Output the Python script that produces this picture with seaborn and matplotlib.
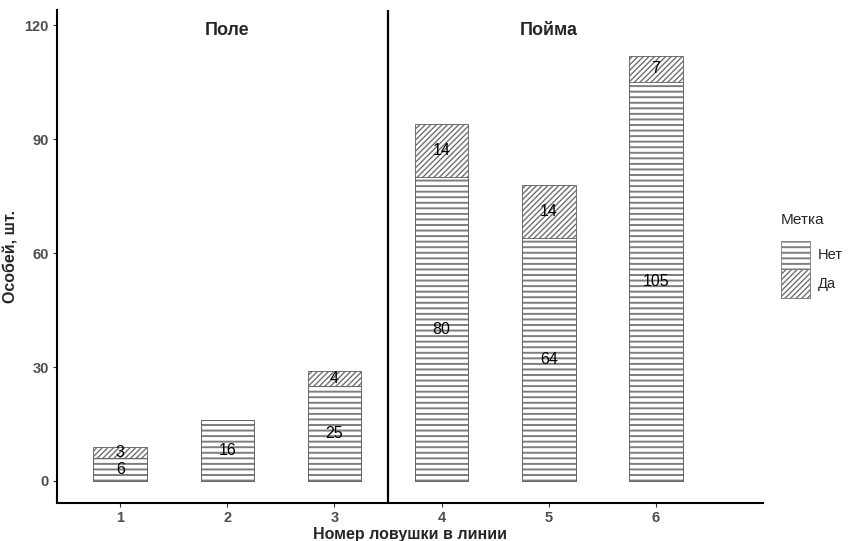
import matplotlib
matplotlib.use("Agg")
import matplotlib.pyplot as plt
import matplotlib.colors as mcolors
from matplotlib.patches import Patch
import seaborn as sns

# данные
traps = [1, 2, 3, 4, 5, 6]
net_counts = [6, 16, 25, 80, 64, 105]   # Метка: Нет
da_counts = [3, 0, 4, 14, 14, 7]        # Метка: Да
panels = ["Поле", "Пойма"]
panel_pos = [2, 5]

totals = [n + d for n, d in zip(net_counts, da_counts)]

sns.set_theme(style="white")
plt.rcParams["font.family"] = ["Liberation Sans", "DejaVu Sans"]
plt.rcParams["hatch.linewidth"] = 1.4

STRIPE = "#7d7d7d"
DIAG = "#707070"
EDGE = "#5a5a5a"

fig = plt.figure(figsize=(8.48, 5.41), dpi=100)
ax = fig.add_axes([0.0672, 0.0702, 0.8326, 0.9113])

# верхний слой (Да) рисуем на полную высоту, затем поверх — Нет
sns.barplot(x=traps, y=totals, native_scale=True, width=0.5, color="white",
            saturation=1, hatch="//////", edgecolor=EDGE, linewidth=0.6, ax=ax)
n_da = len(ax.patches)
sns.barplot(x=traps, y=net_counts, native_scale=True, width=0.5, color="white",
            saturation=1, hatch="---", edgecolor=EDGE, linewidth=0.6, ax=ax)

for i, bar in enumerate(ax.patches):
    hc = DIAG if i < n_da else STRIPE
    bar._hatch_color = mcolors.to_rgba(hc)
    if i < n_da and hasattr(bar, "set_hatch_linewidth"):
        bar.set_hatch_linewidth(1.0)

# подписи сегментов
for x, n, d in zip(traps, net_counts, da_counts):
    ax.text(x, n / 2, str(n), ha="center", va="center", fontsize=11.5, color="black")
    if d > 0:
        ax.text(x, n + d / 2, str(d), ha="center", va="center", fontsize=11.5, color="black")

ax.axvline(3.5, color="black", lw=1.6)
for name, xp in zip(panels, panel_pos):
    ax.text(xp, 118.5, name, ha="center", va="center", fontsize=13, fontweight="bold")

ax.set_xlim(0.41, 7.0)
ax.set_ylim(-5.8, 124)
ax.set_xticks(traps)
ax.set_yticks([0, 30, 60, 90, 120])
ax.tick_params(axis="both", which="both", direction="out", length=3, width=0.8,
               color="#333333", labelsize=10.5, labelcolor="#4D4D4D", bottom=True, left=True, pad=3)
for lab in ax.get_xticklabels() + ax.get_yticklabels():
    lab.set_fontweight("bold")

sns.despine(ax=ax)
for s in ["left", "bottom"]:
    ax.spines[s].set_color("black")
    ax.spines[s].set_linewidth(1.5)

ax.set_xlabel("Номер ловушки в линии", fontsize=11.5, fontweight="bold", labelpad=1)
ax.set_ylabel("Особей, шт.", fontsize=11.5, fontweight="bold", labelpad=4)

handles = [
    Patch(facecolor="white", edgecolor=STRIPE, hatch="---", linewidth=0.6, label="Нет"),
    Patch(facecolor="white", edgecolor=DIAG, hatch="//////", linewidth=0.6, label="Да"),
]
leg = fig.legend(handles=handles, title="Метка", loc="center left",
                 bbox_to_anchor=(0.921, 0.528), frameon=False, fontsize=10.5,
                 title_fontsize=11, handlelength=2.0, handleheight=2.65,
                 labelspacing=0.0, handletextpad=0.5, borderpad=0, borderaxespad=0)
leg._legend_box.align = "left"
leg._legend_box.sep = 10
for h in leg.legend_handles[1:]:
    if hasattr(h, "set_hatch_linewidth"):
        h.set_hatch_linewidth(1.0)

fig.savefig("out.png", dpi=100)
